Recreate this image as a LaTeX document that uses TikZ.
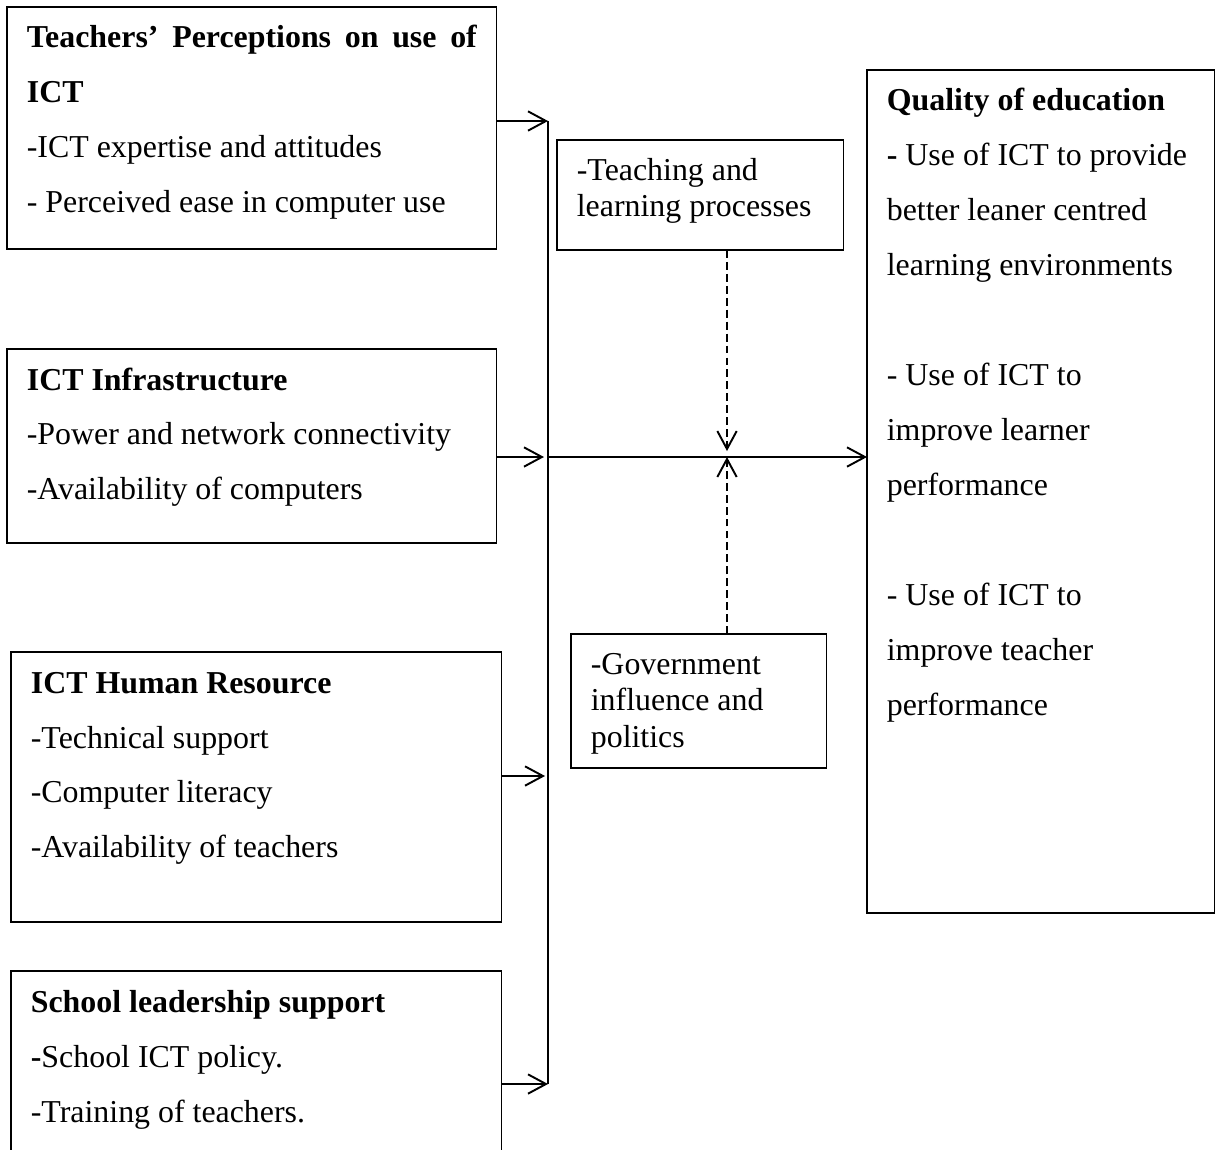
\documentclass[tikz,border=0pt]{standalone}
\usepackage{fontspec}
\setmainfont{Liberation Serif}
\usetikzlibrary{arrows.meta}

\newdimen\pix \pix=0.02cm
\newcommand\hdstrut{\rule{0pt}{41\pix}}
\newcommand\smstrut{\rule{0pt}{40\pix}}
\hyphenpenalty=10000

\tikzset{
  box/.style={draw, line width=0.6pt, anchor=north west, inner xsep=11.3pt, inner ysep=0pt, outer sep=0pt, font=\fontsize{18.15}{31.3}\selectfont},
  smallbox/.style={box, font=\fontsize{18.15}{20.8}\selectfont},
  feed/.style={line width=1.1pt, -{Straight Barb[length=10.2pt,width=11pt,line width=1.1pt]}},
  bus/.style={line width=0.7pt},
  moderate/.style={feed, line width=0.8pt, dash pattern=on 4.5pt off 2.3pt}
}

\begin{document}
\begin{tikzpicture}[x=0.02cm, y=-0.02cm]
\useasboundingbox (0,0) rectangle (1219,1149);

% independent variables
\node[box] (tpc) at (7,7) {\parbox[t][242\pix][t]{450\pix}{\hdstrut\textbf{Teachers’ Perceptions on use of ICT}\par
  -ICT expertise and attitudes\par
  - Perceived ease in computer use}};
\node[box] (infra) at (7,349) {\parbox[t][194\pix][t]{450\pix}{\raggedright\hdstrut\textbf{ICT Infrastructure}\\
  -Power and network connectivity\\
  -Availability of computers}};
\node[box] (hr) at (11,652) {\parbox[t][270\pix][t]{451\pix}{\raggedright\hdstrut\textbf{ICT Human Resource}\\
  -Technical support\\
  -Computer literacy\\
  -Availability of teachers}};
\node[box] (lead) at (11,971) {\parbox[t][250\pix][t]{451\pix}{\raggedright\hdstrut\textbf{School leadership support}\\
  \textbf{-}School ICT policy.\\
  -Training of teachers.}};

% moderating variables
\node[smallbox] (tlp) at (557,140) {\parbox[t][110\pix][t]{247\pix}{\raggedright\smstrut-Teaching and\\ learning processes}};
\node[smallbox] (gov) at (571,634) {\parbox[t][134\pix][t]{216\pix}{\raggedright\smstrut-Government influence and politics}};

% dependent variable
\node[box] (qoe) at (867,70) {\parbox[t][843\pix][t]{308\pix}{\raggedright\hdstrut\textbf{Quality of education}\\
  \textbf{-} Use of ICT to provide\\
  better leaner centred\\
  learning environments\\[\baselineskip]
  - Use of ICT to\\
  improve learner\\
  performance\\[\baselineskip]
  - Use of ICT to\\
  improve teacher\\
  performance}};

% connectors
\coordinate (j1) at (548,121);
\coordinate (j2) at (548,457);
\coordinate (j3) at (548,776);
\coordinate (j4) at (548,1084);
\coordinate (hub) at (727,457);

\draw[bus] (j1) -- (j4);
\draw[feed] (tpc.east |- j1) -- (j1);
\draw[feed] (infra.east |- j2) -- ([xshift=-2.3pt]j2);
\draw[feed] (hr.east |- j3) -- ([xshift=-1.7pt]j3);
\draw[feed] (lead.east |- j4) -- (j4);
\draw[feed] (j2) -- (qoe.west |- j2);
\draw[moderate] (tlp.south -| hub) -- ([yshift=3.4pt]hub);
\draw[moderate] (gov.north -| hub) -- (hub);
\end{tikzpicture}
\end{document}
